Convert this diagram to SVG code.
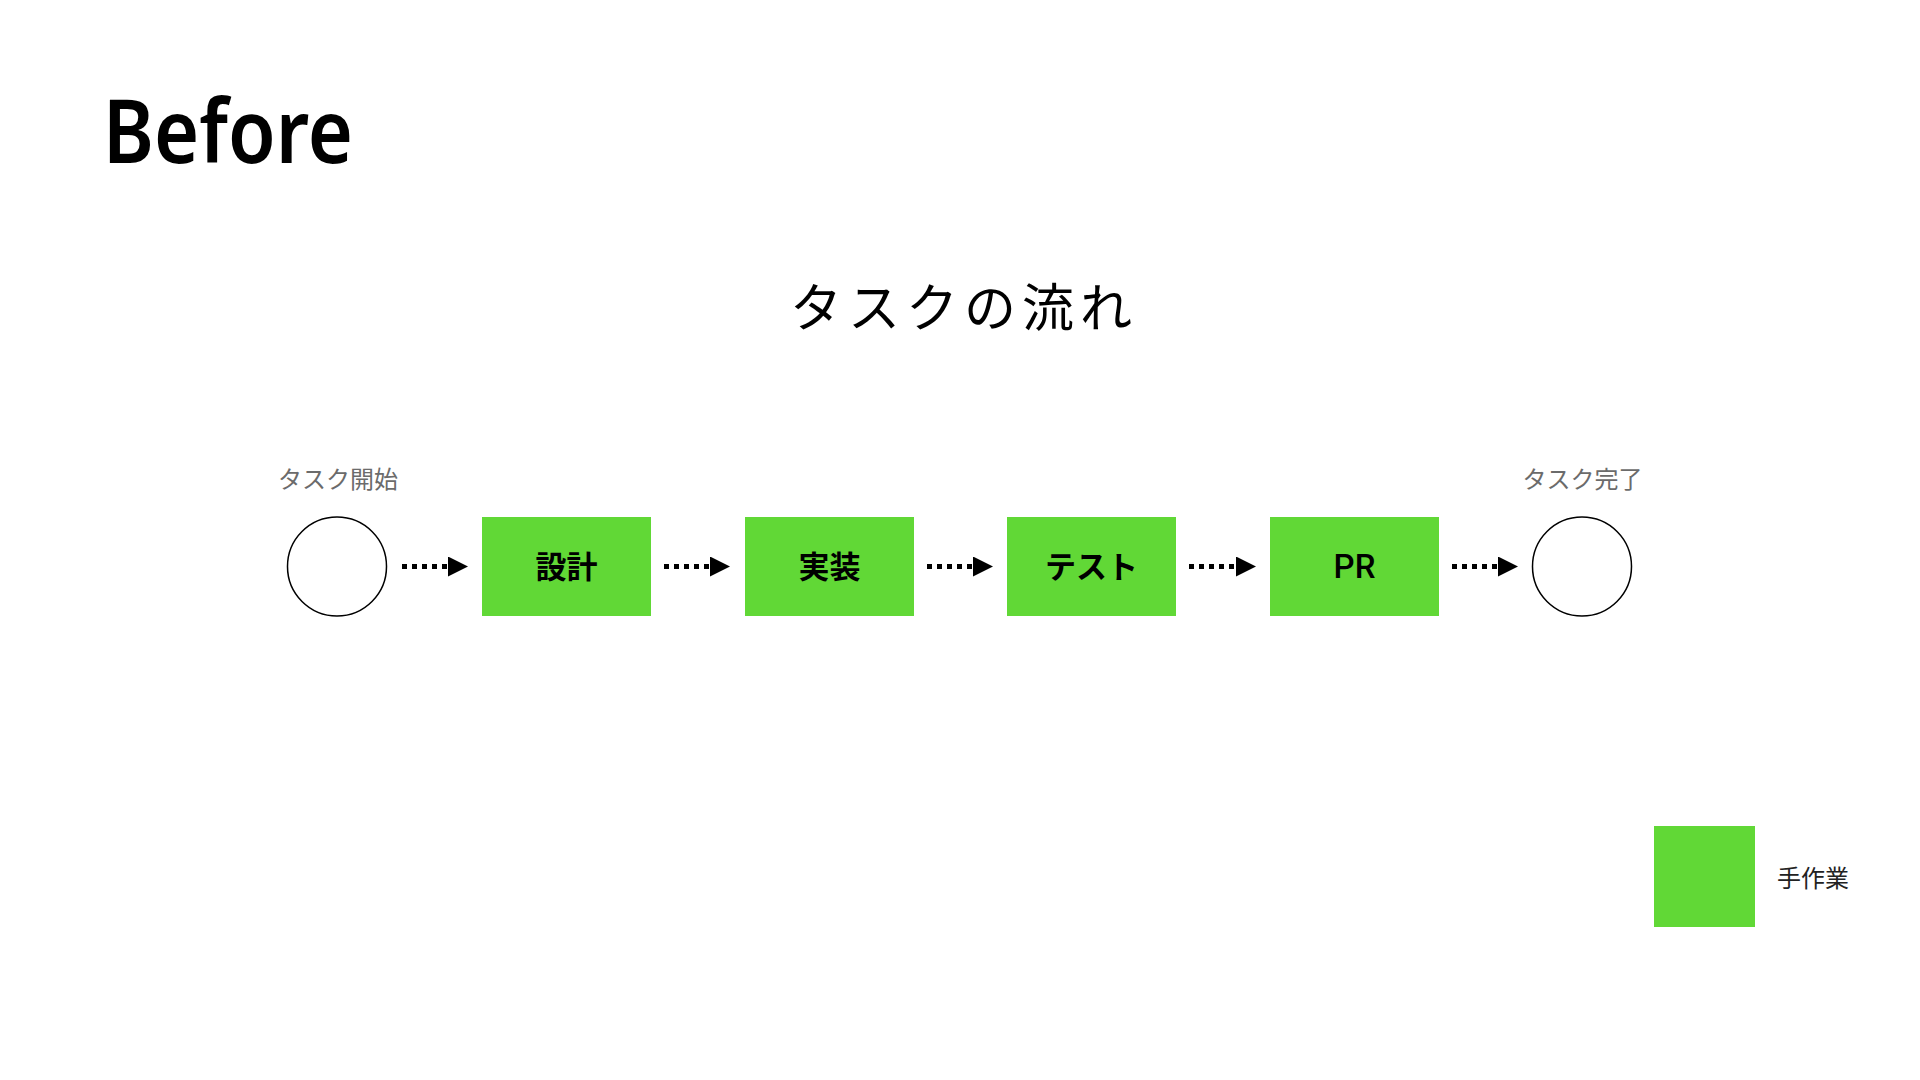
<svg xmlns="http://www.w3.org/2000/svg" width="1920" height="1080" viewBox="0 0 1920 1080">
<style>
.task{fill:#61D836;}
.tlabel{font-family:"Noto Sans CJK JP","Noto Sans",sans-serif;font-weight:700;font-size:31px;fill:#000;text-anchor:middle;}
.ev{fill:#fff;stroke:#000;stroke-width:1.5;}
.evlabel{font-family:"Noto Sans CJK JP",sans-serif;font-size:24px;fill:#6b6b6b;text-anchor:middle;}
.conn{stroke:#000;stroke-width:5;stroke-dasharray:5 5;fill:none;}
</style>
<defs>
<marker id="ah" markerUnits="userSpaceOnUse" markerWidth="20" markerHeight="20" refX="0" refY="10" orient="auto">
<path d="M0,0 L20,10 L0,20 z" fill="#000"/>
</marker>
</defs>
<rect width="1920" height="1080" fill="#fff"/>
<text x="103" y="163" font-family="'Noto Sans',sans-serif" font-weight="600" font-size="88" textLength="250" lengthAdjust="spacingAndGlyphs" fill="#000">Before</text>
<text x="790" y="327" font-family="'Noto Sans CJK JP',sans-serif" font-weight="400" font-size="52" letter-spacing="6" fill="#000">タスクの流れ</text>
<g id="start">
<circle class="ev" cx="337" cy="566.5" r="49.5"/>
<text class="evlabel" x="338" y="487.5">タスク開始</text>
</g>
<g id="design">
<rect class="task" x="482" y="517" width="169" height="99"/>
<text class="tlabel" x="566.5" y="578">設計</text>
</g>
<g id="impl">
<rect class="task" x="745" y="517" width="169" height="99"/>
<text class="tlabel" x="829.5" y="578">実装</text>
</g>
<g id="test">
<rect class="task" x="1007" y="517" width="169" height="99"/>
<text class="tlabel" x="1091.5" y="578">テスト</text>
</g>
<g id="pr">
<rect class="task" x="1270" y="517" width="169" height="99"/>
<text class="tlabel" x="1354.5" y="578" style="font-family:Roboto,sans-serif;font-weight:500;font-size:33px">PR</text>
</g>
<g id="end">
<circle class="ev" cx="1582" cy="566.5" r="49.5"/>
<text class="evlabel" x="1582.5" y="487.5">タスク完了</text>
</g>
<g id="connectors">
<line class="conn" x1="402" y1="566.5" x2="448" y2="566.5" marker-end="url(#ah)"/>
<line class="conn" x1="664" y1="566.5" x2="710" y2="566.5" marker-end="url(#ah)"/>
<line class="conn" x1="927" y1="566.5" x2="973" y2="566.5" marker-end="url(#ah)"/>
<line class="conn" x1="1189" y1="566.5" x2="1236" y2="566.5" marker-end="url(#ah)"/>
<line class="conn" x1="1452" y1="566.5" x2="1498" y2="566.5" marker-end="url(#ah)"/>
</g>
<g id="legend">
<rect class="task" x="1654" y="826" width="101" height="101"/>
<text x="1777" y="887" font-family="'Noto Sans CJK JP',sans-serif" font-size="24" fill="#222">手作業</text>
</g>
</svg>
